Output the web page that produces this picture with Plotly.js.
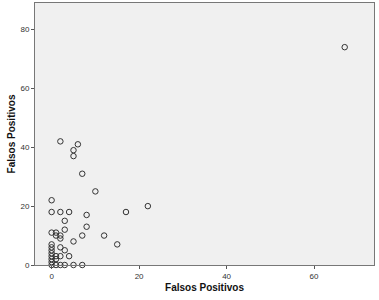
<!DOCTYPE html>
<html>
<head>
<meta charset="utf-8">
<script src="https://cdn.plot.ly/plotly-3.0.1.min.js"></script>
<style>html,body{margin:0;padding:0;background:#fff;}#chart{width:379px;height:300px;}</style>
</head>
<body>
<div id="chart"></div>
<script>
const xVals = [67, 2, 6, 5, 5, 7, 10, 0, 22, 0, 2, 4, 17, 8, 3, 8, 3, 0, 1, 1, 2, 2, 7, 12, 5, 15, 0, 2, 3, 0, 4, 2, 1, 0, 0, 1, 0, 0, 1, 2, 3, 5, 7, 0, 0];
const yVals = [74, 42, 41, 39, 37, 31, 25, 22, 20, 18, 18, 18, 18, 17, 15, 13, 12, 11, 11, 10, 10, 9, 10, 10, 8, 7, 7, 6, 5, 5, 3, 3, 3, 3, 2, 2, 1, 0, 0, 0, 0, 0, 0, 4, 6];
const xTicks = [0, 20, 40, 60];
const yTicks = [0, 20, 40, 60, 80];
const axisTitle = "Falsos Positivos";

const trace = {
  x: xVals, y: yVals, type: 'scatter', mode: 'markers',
  marker: {symbol: 'circle-open', size: 5.5, color: '#333', line: {width: 1, color: '#333'}},
  cliponaxis: false, hoverinfo: 'none'
};
const layout = {
  width: 379, height: 300,
  margin: {l: 35, r: 5, t: 3, b: 35},
  paper_bgcolor: '#fff', plot_bgcolor: '#f0f0f0',
  font: {family: 'Liberation Sans, Arial, sans-serif', size: 8, color: '#333'},
  showlegend: false,
  xaxis: {
    range: [-3.8, 73.7], tickvals: xTicks, ticktext: xTicks.map(String),
    showgrid: false, zeroline: false, showline: true, mirror: true,
    linecolor: '#777', linewidth: 1, ticks: 'outside', ticklen: 3, tickcolor: '#555',
    title: {text: '<b>' + axisTitle + '</b>', font: {size: 10, color: '#111'}, standoff: 4}
  },
  yaxis: {
    range: [0, 89], tickvals: yTicks, ticktext: yTicks.map(String),
    showgrid: false, zeroline: false, showline: true, mirror: true,
    linecolor: '#777', linewidth: 1, ticks: 'outside', ticklen: 3, tickcolor: '#555',
    title: {text: '<b>' + axisTitle + '</b>', font: {size: 10, color: '#111'}, standoff: 2}
  }
};
Plotly.newPlot('chart', [trace], layout, {displayModeBar: false, staticPlot: true});
</script>
</body>
</html>
